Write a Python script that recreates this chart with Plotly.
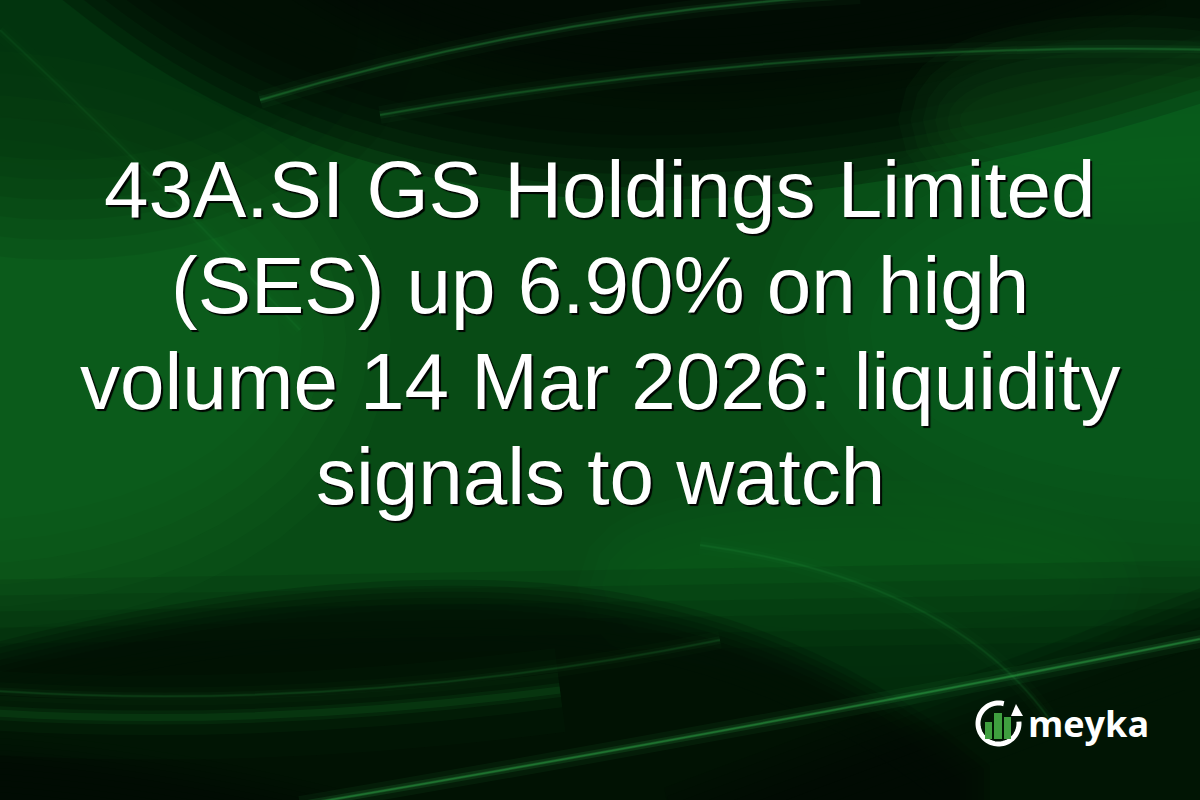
import math
import plotly.graph_objects as go

# text content
title_lines = [
    "43A.SI GS Holdings Limited",
    "(SES) up 6.90% on high",
    "volume 14 Mar 2026: liquidity",
    "signals to watch",
]
brand = "meyka"

W, H = 1200, 800
line_baselines = [217, 313, 409, 504]
title_size = 80

shapes = []


def soft(path, color, opacity, blur, steps=6):
    # fake a blurred region: same path drawn with growing strokes at low opacity
    a = 1 - (1 - opacity) ** (1 / steps)
    for i in range(steps):
        w = blur * i / (steps - 1)
        shapes.append(dict(type="path", xref="x", yref="y", path=path,
                           fillcolor=color, opacity=a, layer="below",
                           line=dict(color=color, width=max(w, 0.01))))


def ellipse(cx, cy, rx, ry, n=48):
    pts = [(cx + rx * math.cos(2 * math.pi * i / n), cy + ry * math.sin(2 * math.pi * i / n))
           for i in range(n)]
    return "M " + " L ".join(f"{x:.1f} {y:.1f}" for x, y in pts) + " Z"


def streak(path, color, opacity, width=1.5):
    for w, k in ((width * 12, 0.12), (width * 5, 0.25), (width * 2, 0.4), (width, 0.6)):
        shapes.append(dict(type="path", xref="x", yref="y", path=path, opacity=opacity * k,
                           line=dict(color=color, width=w), layer="below"))


DARK = "#010a03"
GREEN = "#16782a"

# base
shapes.append(dict(type="rect", xref="x", yref="y", x0=0, x1=W, y0=0, y1=H,
                   fillcolor="#084b15", line_width=0, layer="below"))

# side glows in the middle band
soft(ellipse(-40, 340, 320, 180), GREEN, 0.4, 220)
soft(ellipse(1200, 330, 330, 150), GREEN, 0.3, 220)
soft(ellipse(860, 585, 220, 45), GREEN, 0.25, 120)

# top-left dim corner
soft(ellipse(60, 20, 260, 140), DARK, 0.3, 200)

# top dark lens
soft("M 130 -30 Q 330 125 620 135 Q 900 140 1230 25 L 1230 -30 Z", DARK, 0.85, 130)
soft("M 320 -30 Q 480 70 700 70 Q 950 60 1150 -30 Z", DARK, 0.5, 80)
# bright patch below the upper right streak
soft(ellipse(1130, 120, 170, 45), GREEN, 0.3, 120)

# bottom darkening
soft("M -30 660 L 1230 640 L 1230 830 L -30 830 Z", DARK, 0.45, 160)
soft("M -30 680 Q 250 605 480 610 Q 760 615 960 780 L 960 830 L -30 830 Z", DARK, 0.7, 60)
soft("M 680 830 L 1230 625 L 1230 830 Z", DARK, 0.6, 90)
soft("M -30 760 Q 150 770 380 830 L -30 830 Z", DARK, 0.4, 60)
# lighter band along the lower left
streak("M -20 712 Q 250 730 560 690", GREEN, 0.3, 7)

# thin light streaks
streak("M 260 100 Q 560 10 860 -5", "#2ea84a", 0.4)
streak("M 380 115 Q 800 40 1220 50", "#2ea84a", 0.35)
streak("M 300 805 Q 800 720 1220 635", "#32b04e", 0.6)
streak("M -20 690 Q 350 715 720 640", "#2ea84a", 0.2)
streak("M 700 545 Q 950 580 1050 720", "#2ea84a", 0.15)
streak("M 0 30 Q 150 170 300 330", "#2ea84a", 0.1)

# logo: ring with arrow and bars
cx, cy, r = 998.5, 723.5, 20.5
pts = []
for i in range(61):
    a = math.radians(75 + i * (290 / 60))
    pts.append((cx + r * math.cos(a), cy - r * math.sin(a)))
ring = "M " + " L ".join(f"{x:.2f} {y:.2f}" for x, y in pts)
shapes.append(dict(type="path", xref="x", yref="y", path=ring,
                   line=dict(color="white", width=5)))
shapes.append(dict(type="path", xref="x", yref="y",
                   path="M 1011 716 L 1023 716 L 1016 704 Z",
                   fillcolor="white", line_width=0))
for x0, x1, top in ((985, 992, 722), (994, 1002, 713), (1004, 1011, 717)):
    shapes.append(dict(type="rect", xref="x", yref="y", x0=x0, x1=x1, y0=top, y1=739,
                       fillcolor="#3f9f3f", line_width=0))

fig = go.Figure()

annotations = []
for line, base in zip(title_lines, line_baselines):
    annotations.append(dict(
        text=line, x=W / 2, y=base - 28, xref="x", yref="y",
        xanchor="center", yanchor="middle", showarrow=False,
        font=dict(family="Liberation Sans, Arial, sans-serif", size=title_size,
                  color="white", shadow="2px 2px 1px rgba(0,0,0,0.95)"),
    ))
annotations.append(dict(
    text=brand, x=1026, y=723, xref="x", yref="y",
    xanchor="left", yanchor="middle", showarrow=False,
    font=dict(family="Open Sans, sans-serif", size=36, color="white", weight="bold"),
))

fig.update_layout(
    width=W, height=H,
    margin=dict(l=0, r=0, t=0, b=0),
    paper_bgcolor="#084b15", plot_bgcolor="#084b15",
    xaxis=dict(range=[0, W], visible=False, fixedrange=True),
    yaxis=dict(range=[H, 0], visible=False, fixedrange=True),
    shapes=shapes, annotations=annotations, showlegend=False,
)

fig.write_html("out.html", config={"displayModeBar": False},
               post_script="document.body.style.margin='0';document.body.style.overflow='hidden';")
